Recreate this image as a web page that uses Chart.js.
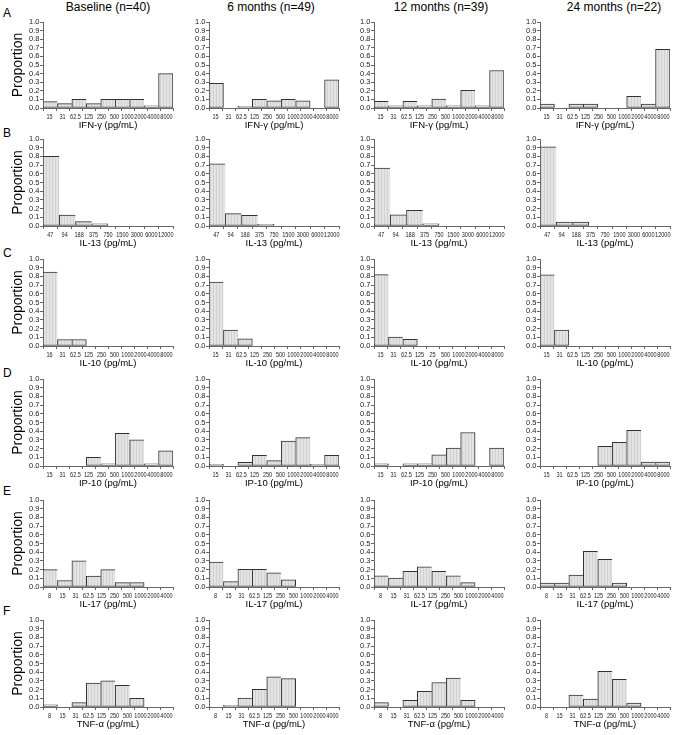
<!DOCTYPE html>
<html><head><meta charset="utf-8">
<script src="https://cdn.jsdelivr.net/npm/chart.js@4.4.0/dist/chart.umd.min.js"></script>
<style>
html,body{margin:0;padding:0;background:#fff;}
body{width:691px;height:735px;position:relative;overflow:hidden;font-family:'Liberation Sans',Arial,sans-serif;color:#000;}
canvas.pn{position:absolute;}
.hdr{position:absolute;font-size:12px;line-height:14px;white-space:nowrap;transform:translateX(-50%);}
.let{position:absolute;font-size:12px;line-height:14px;}
</style></head><body>
<script>
// ---------- DATA ----------
const timepoints = ['Baseline (n=40)', '6 months (n=49)', '12 months (n=39)', '24 months (n=22)'];
const rowLetters = ['A', 'B', 'C', 'D', 'E', 'F'];
const analyteTitles = ['IFN-\u03b3 (pg/mL)', 'IL-13 (pg/mL)', 'IL-10 (pg/mL)', 'IP-10 (pg/mL)', 'IL-17 (pg/mL)', 'TNF-\u03b1 (pg/mL)'];

// bin-edge tick labels
const ifnEdges = ['15', '31', '62.5', '125', '250', '500', '1000', '2000', '4000', '8000'];
const il13Edges = ['47', '94', '188', '375', '750', '1500', '3000', '6000', '12000'];
const il10EdgesBaseline = ['16', '31', '62.5', '125', '250', '500', '1000', '2000', '4000', '8000'];
const il10Edges = ['15', '31', '62.5', '125', '250', '500', '1000', '2000', '4000', '8000'];
const il10Edges12m = ['15', '31', '62.5', '125', '25', '500', '1000', '2000', '4000', '8000'];
const ip10Edges = ['15', '31', '62.5', '125', '250', '500', '1000', '2000', '4000', '8000'];
const il17Edges = ['8', '15', '31', '62.5', '125', '250', '500', '1000', '2000', '4000'];
const tnfEdges = ['8', '15', '31', '62.5', '125', '250', '500', '1000', '2000', '4000'];

// proportions per bin (null = empty bin)
const ifnBaseline = [0.075, 0.05, 0.1, 0.05, 0.1, 0.1, 0.1, 0.025, 0.4];
const ifn6m       = [0.286, null, 0.02, 0.102, 0.082, 0.102, 0.082, null, 0.327];
const ifn12m      = [0.077, 0.026, 0.077, 0.026, 0.103, 0.026, 0.205, 0.026, 0.436];
const ifn24m      = [0.045, null, 0.045, 0.045, null, null, 0.136, 0.045, 0.682];

const il13Baseline = [0.8, 0.125, 0.05, 0.025, null, null, null, null];
const il13_6m      = [0.714, 0.143, 0.122, 0.02, null, null, null, null];
const il13_12m     = [0.667, 0.128, 0.179, 0.026, null, null, null, null];
const il13_24m     = [0.909, 0.045, 0.045, null, null, null, null, null];

const il10Baseline = [0.85, 0.075, 0.075, null, null, null, null, null, null];
const il10_6m      = [0.735, 0.184, 0.082, null, null, null, null, null, null];
const il10_12m     = [0.821, 0.103, 0.077, null, null, null, null, null, null];
const il10_24m     = [0.818, 0.182, null, null, null, null, null, null, null];

const ip10Baseline = [null, null, null, 0.1, 0.025, 0.375, 0.3, 0.025, 0.175];
const ip10_6m      = [0.02, null, 0.041, 0.122, 0.061, 0.286, 0.327, 0.02, 0.122];
const ip10_12m     = [0.026, null, 0.026, 0.026, 0.128, 0.205, 0.385, null, 0.205];
const ip10_24m     = [null, null, null, null, 0.227, 0.273, 0.409, 0.045, 0.045];

const il17Baseline = [0.2, 0.075, 0.3, 0.125, 0.2, 0.05, 0.05, null, null];
const il17_6m      = [0.286, 0.061, 0.204, 0.204, 0.163, 0.082, null, null, null];
const il17_12m     = [0.128, 0.103, 0.179, 0.231, 0.179, 0.128, 0.051, null, null];
const il17_24m     = [0.045, 0.045, 0.136, 0.409, 0.318, 0.045, null, null, null];

const tnfBaseline = [0.025, null, 0.05, 0.275, 0.3, 0.25, 0.1, null, null];
const tnf6m       = [null, 0.02, 0.102, 0.204, 0.347, 0.327, null, null, null];
const tnf12m      = [0.051, null, 0.077, 0.179, 0.282, 0.333, 0.077, null, null];
const tnf24m      = [null, null, 0.136, 0.091, 0.409, 0.318, 0.045, null, null];

const yTickValues = [0, 0.1, 0.2, 0.3, 0.4, 0.5, 0.6, 0.7, 0.8, 0.9, 1.0];

const rows = [
  {edges: [ifnEdges, ifnEdges, ifnEdges, ifnEdges], values: [ifnBaseline, ifn6m, ifn12m, ifn24m]},
  {edges: [il13Edges, il13Edges, il13Edges, il13Edges], values: [il13Baseline, il13_6m, il13_12m, il13_24m]},
  {edges: [il10EdgesBaseline, il10Edges, il10Edges12m, il10Edges], values: [il10Baseline, il10_6m, il10_12m, il10_24m]},
  {edges: [ip10Edges, ip10Edges, ip10Edges, ip10Edges], values: [ip10Baseline, ip10_6m, ip10_12m, ip10_24m]},
  {edges: [il17Edges, il17Edges, il17Edges, il17Edges], values: [il17Baseline, il17_6m, il17_12m, il17_24m]},
  {edges: [tnfEdges, tnfEdges, tnfEdges, tnfEdges], values: [tnfBaseline, tnf6m, tnf12m, tnf24m]}
];

// ---------- LAYOUT ----------
const colLeft = [43, 209, 374, 540];
const plotW = 130;
const rowTop = [22, 139, 259, 379, 500, 620];
const rowBottom = [108, 226, 346, 466, 587, 707];
const headerX = [108, 271, 441, 614];
const letterY = [13, 133, 253, 373, 491, 611];
const baseFamily = "'Liberation Sans', Arial, sans-serif";

function makeHatch() {
  const p = document.createElement('canvas'); p.width = 3; p.height = 4;
  const g = p.getContext('2d');
  g.fillStyle = '#e3e3e3'; g.fillRect(0, 0, 3, 4);
  g.fillStyle = '#d1d1d1'; g.fillRect(1, 0, 1, 4);
  return g.createPattern(p, 'repeat');
}
const hatch = makeHatch();

timepoints.forEach((t, c) => {
  const d = document.createElement('div');
  d.className = 'hdr'; d.textContent = t;
  d.style.left = headerX[c] + 'px'; d.style.top = '0px';
  document.body.appendChild(d);
});
rowLetters.forEach((l, r) => {
  const d = document.createElement('div');
  d.className = 'let'; d.textContent = l;
  d.style.left = '3px'; d.style.top = (letterY[r] - 7) + 'px';
  document.body.appendChild(d);
});

// draws the x tick labels of the 'xe' scale in a condensed face
const condensedTicks = {
  id: 'condensedTicks',
  afterDraw(chart) {
    const s = chart.scales.xe;
    const ctx = chart.ctx;
    ctx.save();
    ctx.font = '7.8px ' + baseFamily;
    ctx.fillStyle = '#222';
    ctx.textAlign = 'center';
    ctx.textBaseline = 'middle';
    s.ticks.forEach(t => {
      const x = s.getPixelForValue(t.value);
      ctx.save();
      ctx.translate(x, s.top + 9);
      ctx.scale(0.71, 1);
      ctx.fillText(t.label, 0, 0);
      ctx.restore();
    });
    ctx.restore();
  }
};

function makePanel(r, c) {
  const edges = rows[r].edges[c];
  const vals = rows[r].values[c];
  const nb = edges.length - 1;
  const yW = c === 0 ? 43 : 30;
  const padT = 6, padR = 12, xH = 23;
  const plotH = rowBottom[r] - rowTop[r];
  const W = yW + plotW + padR, H = padT + plotH + xH;
  const cv = document.createElement('canvas');
  cv.className = 'pn';
  cv.width = W; cv.height = H;
  cv.style.width = W + 'px'; cv.style.height = H + 'px';
  cv.style.left = (colLeft[c] - yW) + 'px';
  cv.style.top = (rowTop[r] - padT) + 'px';
  document.body.appendChild(cv);
  const binLabels = edges.slice(0, nb).map((e, i) => e + '-' + edges[i + 1]);
  new Chart(cv, {
    type: 'bar',
    data: {
      labels: binLabels,
      datasets: [{
        data: vals,
        backgroundColor: hatch,
        borderColor: '#333',
        borderWidth: ctx => ({top: 1, left: 1, bottom: 1, right: (vals[ctx.dataIndex + 1] == null) ? 1 : 0}),
        borderSkipped: false,
        barPercentage: 1,
        categoryPercentage: 1
      }]
    },
    plugins: [condensedTicks],
    options: {
      responsive: false,
      animation: false,
      devicePixelRatio: 1,
      layout: {padding: {top: padT, right: padR, left: 0, bottom: 0}},
      plugins: {legend: {display: false}, tooltip: {enabled: false}, title: {display: false}},
      scales: {
        x: {type: 'category', display: false, offset: true},
        xe: {
          type: 'linear', position: 'bottom', min: 0, max: nb,
          ticks: {display: false, stepSize: 1, autoSkip: false, maxRotation: 0, minRotation: 0,
                  callback: v => edges[Math.round(v)] ?? ''},
          grid: {drawOnChartArea: false, drawTicks: true, tickLength: 3, color: '#666'},
          border: {display: true, color: '#666', width: 1},
          title: {display: true, text: analyteTitles[r], color: '#000',
                  font: {size: 9.5, family: baseFamily, lineHeight: 1.2},
                  padding: {top: 0, bottom: 0}},
          afterFit: s => { s.height = xH; }
        },
        y: {
          min: 0, max: 1,
          afterBuildTicks: s => { s.ticks = yTickValues.map(v => ({value: v})); },
          ticks: {autoSkip: false, padding: 0.5, callback: v => Number(v).toFixed(1),
                  font: {size: 7.5, family: baseFamily, lineHeight: 1}, color: '#222'},
          grid: {drawOnChartArea: false, drawTicks: true, tickLength: 3, color: '#666'},
          border: {display: true, color: '#666', width: 1},
          title: {display: c === 0, text: 'Proportion', color: '#000',
                  font: {size: 14, family: baseFamily, lineHeight: 1.2},
                  padding: {top: 10, bottom: 0}},
          afterFit: s => { s.width = yW; }
        }
      }
    }
  });
}

for (let r = 0; r < rows.length; r++) for (let c = 0; c < 4; c++) makePanel(r, c);
</script>
</body></html>
